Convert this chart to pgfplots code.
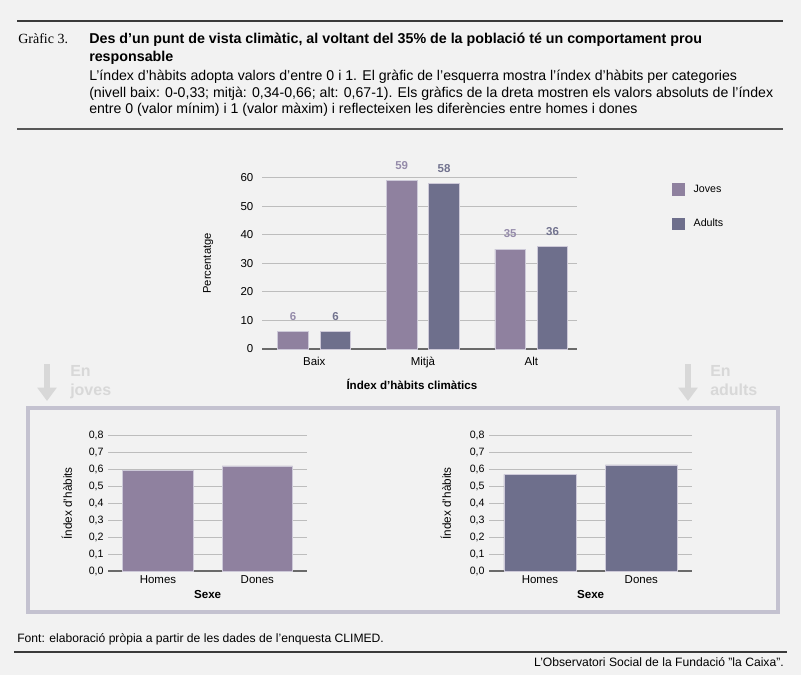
\documentclass[border=0pt]{standalone}
\usepackage{fontspec}
\setmainfont{Liberation Sans}
\newfontfamily\seriffont{Liberation Serif}
\usepackage{pgfplots}
\pgfplotsset{compat=1.18}
\usetikzlibrary{arrows.meta}
\definecolor{bg}{HTML}{F2F2F2}
\definecolor{jc}{HTML}{8F819F}
\definecolor{ac}{HTML}{6E6F8C}
\definecolor{jl}{HTML}{958BAA}
\definecolor{al}{HTML}{72738F}
\definecolor{edgec}{HTML}{CDC9D8}
\definecolor{gridc}{HTML}{BDBDBD}
\definecolor{zeroc}{HTML}{6A6A6A}
\definecolor{boxc}{HTML}{C4C2D0}
\definecolor{arrc}{HTML}{D8D8D8}
\definecolor{rulec}{HTML}{3A3A3A}
\begin{document}
\begin{tikzpicture}
\begin{scope}[x=0.75pt,y=-0.75pt]
\fill[bg] (0,0) rectangle (801,675);
% header
\draw[rulec, line width=1.5pt] (17,21) -- (783,21);
\draw[rulec!85, line width=1.8pt] (17,129) -- (783,129);
\node[anchor=base west, inner sep=0, font=\seriffont\fontsize{10.5}{12}\selectfont] at (18,43) {Gràfic 3.};
\node[anchor=base west, inner sep=0, font=\bfseries\fontsize{10.7}{12}\selectfont] at (89,43) {Des d’un punt de vista climàtic, al voltant del 35\% de la població té un comportament prou};
\node[anchor=base west, inner sep=0, font=\bfseries\fontsize{10.7}{12}\selectfont] at (89,61) {responsable};
\node[anchor=base west, inner sep=0, font=\fontsize{10.6}{12}\selectfont] at (89,80) {L’índex d’hàbits adopta valors d’entre 0 i 1. El gràfic de l’esquerra mostra l’índex d’hàbits per categories};
\node[anchor=base west, inner sep=0, font=\fontsize{10.6}{12}\selectfont] at (89,97) {(nivell baix: 0-0,33; mitjà: 0,34-0,66; alt: 0,67-1). Els gràfics de la dreta mostren els valors absoluts de l’índex};
\node[anchor=base west, inner sep=0, font=\fontsize{10.6}{12}\selectfont] at (89,113) {entre 0 (valor mínim) i 1 (valor màxim) i reflecteixen les diferències entre homes i dones};
% arrows and side texts
\draw[arrc, line width=4.2pt, -{Triangle[width=14pt,length=10pt]}] (47,364) -- (47,401);
\draw[arrc, line width=4.2pt, -{Triangle[width=14pt,length=10pt]}] (688,364) -- (688,401);
\node[anchor=base west, inner sep=0, text=arrc, font=\bfseries\fontsize{12}{14}\selectfont] at (70,376) {En};
\node[anchor=base west, inner sep=0, text=arrc, font=\bfseries\fontsize{12}{14}\selectfont] at (70,395) {joves};
\node[anchor=base west, inner sep=0, text=arrc, font=\bfseries\fontsize{12}{14}\selectfont] at (710,376) {En};
\node[anchor=base west, inner sep=0, text=arrc, font=\bfseries\fontsize{12}{14}\selectfont] at (710,395) {adults};
% box
\draw[boxc, line width=3pt] (28,408) rectangle (778,612);
% footer
\node[anchor=base west, inner sep=0, font=\fontsize{9.1}{10}\selectfont] at (17,642) {Font: elaboració pròpia a partir de les dades de l’enquesta CLIMED.};
\draw[rulec, line width=1.5pt] (14,652) -- (787,652);
\node[anchor=base east, inner sep=0, font=\fontsize{9.1}{10}\selectfont] at (784,666) {L’Observatori Social de la Fundació "la Caixa".};
\coordinate (M) at (262,349);
\coordinate (L) at (108.3,571);
\coordinate (R) at (489.3,571);
\end{scope}

\begin{axis}[
 at={(M)}, anchor=south west, scale only axis,
 width=236.25pt, height=128.5pt,
 xmin=-0.482, xmax=2.42, ymin=0, ymax=60,
 axis x line*=bottom, axis y line*=left,
 x axis line style={draw=zeroc, line width=1.1pt, -},
 y axis line style={draw=none, -},
 xtick={0,1,2}, xticklabels={Baix,Mitjà,Alt},
 ytick={0,10,20,30,40,50,60},
 major tick length=0pt,
 ymajorgrids, grid style={gridc, line width=0.7pt},
 tick label style={font=\fontsize{8.6}{10}\selectfont},
 yticklabel style={xshift=-3pt},
 xticklabel style={yshift=-2.5pt},
 /pgf/number format/assume math mode=true,
 ylabel={Percentatge},
 ylabel style={at={(axis description cs:-0.171,0.5)}, anchor=center, font=\fontsize{8.4}{10}\selectfont},
 xlabel={\textbf{Índex d’hàbits climàtics}},
 xlabel style={at={(axis description cs:0.476,-0.204)}, anchor=center, font=\fontsize{8.7}{10}\selectfont},
 bar width=0.282,
 clip=false,
 legend style={at={(1.289,0.99)}, anchor=north west, draw=none, fill=none, font=\fontsize{8}{10}\selectfont, row sep=14.5pt},
 legend cell align=left,
]
\addplot[ybar, bar shift=-0.195, fill=jc, draw=edgec, line width=0.6pt,
  legend image code/.code={\fill[jc, draw=none] (0pt,-4.7pt) rectangle (9.5pt,4.7pt); \path[draw=none, fill=none] (0pt,0pt) rectangle (14pt,1pt);},
  nodes near coords, nodes near coords style={text=jl, font=\bfseries\fontsize{8.6}{10}\selectfont, anchor=south, inner sep=0pt, yshift=8pt, xshift=-15.9pt}]
  coordinates {(0,6) (1,59) (2,35)};
\addlegendentry{Joves}
\addplot[ybar, bar shift=0.195, fill=ac, draw=edgec, line width=0.6pt,
  legend image code/.code={\fill[ac, draw=none] (0pt,-4.7pt) rectangle (9.5pt,4.7pt); \path[draw=none, fill=none] (0pt,0pt) rectangle (14pt,1pt);},
  nodes near coords, nodes near coords style={text=al, font=\bfseries\fontsize{8.6}{10}\selectfont, anchor=south, inner sep=0pt, yshift=8pt, xshift=15.9pt}]
  coordinates {(0,6) (1,58) (2,36)};
\addlegendentry{Adults}
\end{axis}

\pgfplotsset{smallax/.style={
 anchor=south west, scale only axis,
 height=101.5pt,
 xmin=-0.5, xmax=1.5, ymin=0, ymax=0.8,
 axis x line*=bottom, axis y line*=left,
 x axis line style={draw=zeroc, line width=1.1pt, -},
 y axis line style={draw=none, -},
 xtick={0,1}, xticklabels={Homes,Dones},
 ytick={0,0.1,0.2,0.3,0.4,0.5,0.6,0.7,0.8},
 yticklabel style={/pgf/number format/fixed, /pgf/number format/fixed zerofill, /pgf/number format/precision=1, /pgf/number format/use comma, font=\fontsize{8}{9}\selectfont},
 major tick length=0pt,
 ymajorgrids, grid style={gridc, line width=0.7pt},
 xticklabel style={font=\fontsize{8.6}{9}\selectfont},
 /pgf/number format/assume math mode=true,
 ylabel={Índex d’hàbits},
 ylabel style={anchor=center, font=\fontsize{8.8}{9}\selectfont},
 xlabel={\textbf{Sexe}},
 xlabel style={at={(axis description cs:0.5,-0.177)}, anchor=center, font=\fontsize{8.7}{9}\selectfont},
 bar width=0.71,
 clip=false,
}}

\begin{axis}[smallax, at={(L)}, width=149pt,
 ylabel style={at={(axis description cs:-0.209,0.5)}}]
\addplot[ybar, fill=jc, draw=edgec, line width=0.6pt] coordinates {(0,0.592) (1,0.621)};
\end{axis}

\begin{axis}[smallax, at={(R)}, width=152pt,
 ylabel style={at={(axis description cs:-0.214,0.5)}}]
\addplot[ybar, fill=ac, draw=edgec, line width=0.6pt] coordinates {(0,0.572) (1,0.627)};
\end{axis}
\end{tikzpicture}
\end{document}
